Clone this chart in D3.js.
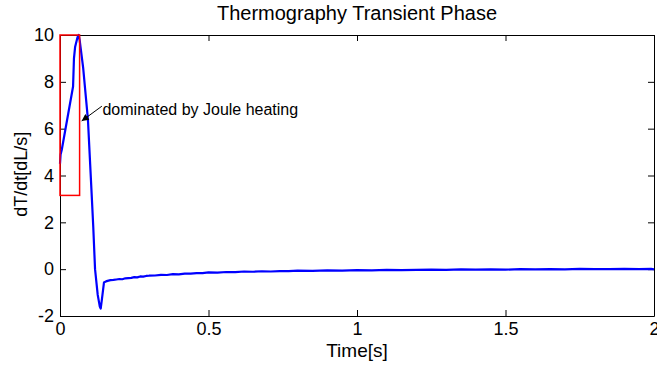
<!DOCTYPE html>
<html>
<head>
<meta charset="utf-8">
<script src="https://cdn.jsdelivr.net/npm/d3@7"></script>
<style>
	body { margin: 0; background: #fff; }
	text { font-family: Arial, "Liberation Sans", sans-serif; fill: #000; }
</style>
</head>
<body>
<div id="chart"></div>
<script>
// time in seconds
var timeS = [0, 0.002, 0.006, 0.044, 0.047, 0.051, 0.059, 0.063, 0.066, 0.078, 0.094, 0.107, 0.112,
	0.118, 0.127, 0.134, 0.137, 0.141, 0.148, 0.155, 0.16, 0.17, 0.18, 0.19, 0.2, 0.21, 0.22, 0.23,
	0.24, 0.25, 0.26, 0.27, 0.28, 0.29, 0.3, 0.32, 0.34, 0.36, 0.38, 0.4, 0.42, 0.44, 0.46, 0.48,
	0.5, 0.53, 0.56, 0.59, 0.62, 0.65, 0.68, 0.71, 0.74, 0.77, 0.8, 0.85, 0.9, 0.95, 1.0, 1.05,
	1.1, 1.15, 1.2, 1.25, 1.3, 1.35, 1.4, 1.45, 1.5, 1.55, 1.6, 1.65, 1.7, 1.75, 1.8, 1.85, 1.9,
	1.95, 1.99, 2.0];
// dT/dt values
var dTdt = [4.5, 4.9, 5.1, 7.8, 9.0, 9.5, 9.9, 10.0, 9.8, 8.6, 6.4, 3.1, 1.8,
	0.0, -1.1, -1.6, -1.68, -1.3, -0.57, -0.52, -0.5, -0.47, -0.46, -0.44, -0.42, -0.43, -0.39, -0.38,
	-0.37, -0.34, -0.35, -0.31, -0.32, -0.29, -0.28, -0.27, -0.24, -0.25, -0.21, -0.22, -0.19, -0.19, -0.17, -0.17,
	-0.14, -0.15, -0.12, -0.13, -0.10, -0.11, -0.09, -0.10, -0.08, -0.08, -0.06, -0.07, -0.05, -0.06, -0.04, -0.05,
	-0.03, -0.04, -0.03, -0.02, -0.03, -0.01, -0.02, -0.01, -0.02, 0.0, -0.01, 0.0, -0.01, 0.01, 0.0, 0.0, 0.01,
	0.0, 0.01, -0.01];

var xTicks = [0, 0.5, 1, 1.5, 2];
var yTicks = [-2, 0, 2, 4, 6, 8, 10];

// red box corners [time, value]
var boxT = [0, 0.066];
var boxV = [3.15, 10];

// annotation: text anchor and arrow end
var noteText = "dominated by Joule heating";
var noteAt = [0.143, 6.6];
var arrowFrom = [0.141, 6.96];
var arrowTo = [0.073, 6.33];

function init(){
	var w = 657;
	var h = 368;
	var margin = {top: 35, right: 3, bottom: 52, left: 60};

	var x = d3.scaleLinear()
				.domain([0, 2])
				.range([margin.left, w - margin.right]);

	var y = d3.scaleLinear()
				.domain([-2, 10])
				.range([h - margin.bottom, margin.top]);

	var svg = d3.select("#chart")
				.append("svg")
				.attr("width", w)
				.attr("height", h);

	svg.append("defs").append("marker")
		.attr("id", "head")
		.attr("viewBox", "0 0 10 10")
		.attr("refX", 10)
		.attr("refY", 5)
		.attr("markerWidth", 9)
		.attr("markerHeight", 7)
		.attr("markerUnits", "userSpaceOnUse")
		.attr("orient", "auto")
		.append("path")
		.attr("d", "M0,0L10,5L0,10z")
		.attr("fill", "#000");

	//axes - MATLAB style box with inward ticks
	var fmt = function(d){ return String(d); };
	svg.append("g")
		.attr("transform", "translate(0," + y(-2) + ")")
		.call(d3.axisBottom(x).tickValues(xTicks).tickFormat(fmt).tickSizeInner(-6).tickSizeOuter(0).tickPadding(6));
	svg.append("g")
		.attr("transform", "translate(0," + y(10) + ")")
		.call(d3.axisTop(x).tickValues(xTicks).tickFormat("").tickSizeInner(-6).tickSizeOuter(0));
	svg.append("g")
		.attr("transform", "translate(" + x(0) + ",0)")
		.call(d3.axisLeft(y).tickValues(yTicks).tickFormat(fmt).tickSizeInner(-6).tickSizeOuter(0).tickPadding(6));
	svg.append("g")
		.attr("transform", "translate(" + x(2) + ",0)")
		.call(d3.axisRight(y).tickValues(yTicks).tickFormat("").tickSizeInner(-6).tickSizeOuter(0));

	svg.selectAll(".domain, .tick line").attr("stroke", "#000");
	svg.selectAll(".tick text")
		.style("font-family", "Arial, 'Liberation Sans', sans-serif")
		.style("font-size", "18px")
		.attr("fill", "#000");

	//data line
	var line = d3.line()
		.x(function(d, i){ return x(timeS[i]); })
		.y(function(d){ return y(d); });

	svg.append("path")
		.datum(dTdt)
		.attr("d", line)
		.attr("fill", "none")
		.attr("stroke", "#0000ff")
		.attr("stroke-width", 2.2)
		.attr("stroke-linejoin", "round");

	//red box
	svg.append("rect")
		.attr("x", x(boxT[0]))
		.attr("y", y(boxV[1]))
		.attr("width", x(boxT[1]) - x(boxT[0]))
		.attr("height", y(boxV[0]) - y(boxV[1]))
		.attr("fill", "none")
		.attr("stroke", "#ff0000")
		.attr("stroke-width", 1.5);

	//annotation
	svg.append("line")
		.attr("x1", x(arrowFrom[0]))
		.attr("y1", y(arrowFrom[1]))
		.attr("x2", x(arrowTo[0]))
		.attr("y2", y(arrowTo[1]))
		.attr("stroke", "#000")
		.attr("stroke-width", 1)
		.attr("marker-end", "url(#head)");

	svg.append("text")
		.attr("x", x(noteAt[0]))
		.attr("y", y(noteAt[1]))
		.style("font-size", "16px")
		.text(noteText);

	//titles
	svg.append("text")
		.attr("x", (x(0) + x(2)) / 2)
		.attr("y", 20)
		.attr("text-anchor", "middle")
		.style("font-size", "20px")
		.text("Thermography Transient Phase");

	svg.append("text")
		.attr("x", (x(0) + x(2)) / 2)
		.attr("y", 357)
		.attr("text-anchor", "middle")
		.style("font-size", "19px")
		.text("Time[s]");

	svg.append("text")
		.attr("transform", "translate(27," + y(4.05) + ") rotate(-90)")
		.attr("text-anchor", "middle")
		.style("font-size", "18px")
		.text("dT/dt[dL/s]");
}

window.onload = init;
</script>
</body>
</html>
